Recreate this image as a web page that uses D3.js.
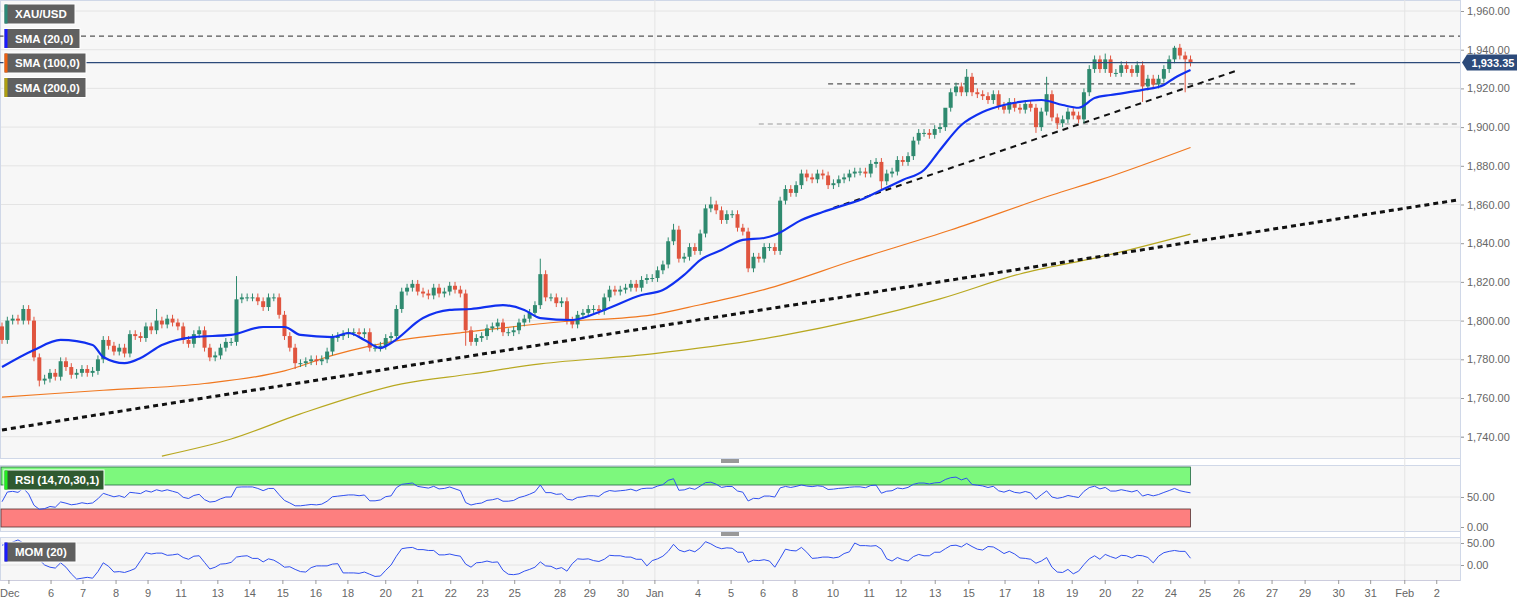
<!DOCTYPE html>
<html><head><meta charset="utf-8">
<script src="https://cdn.jsdelivr.net/npm/d3@7"></script>
<style>body{margin:0;background:#fff;}svg{display:block;font-family:"Liberation Sans",Arial,sans-serif;}</style>
</head><body><svg id="c" width="1536" height="604"></svg>
<script>
// ---- data ----
const closes = [1790,1800,1801,1800,1806,1800, 1781,1769,1770,1773,1771,1779, 1776,1772,1773,1775,1773,1774,
1780,1790,1787,1784,1786,1783, 1793,1792,1791,1797,1795,1800, 1798,1801,1799,1797,1790,1788,
1793,1795,1786,1781,1782,1786, 1789,1789,1811,1812,1812,1812, 1810,1807,1812,1812,1803,1792,
1786,1778,1778,1779,1780,1779, 1780,1784,1791,1792,1793,1794, 1794,1793,1794,1786,1786,1787,
1791,1792,1806,1815,1817,1819, 1815,1814,1813,1817,1814,1815, 1818,1816,1814,1795,1789,1791,
1792,1796,1797,1799,1794,1794, 1795,1799,1801,1804,1808,1824, 1812,1812,1809,1810,1800,1798,
1803,1804,1806,1806,1805,1812, 1816,1815,1816,1817,1819,1817, 1821,1822,1822,1826,1829,1841,
1847,1832,1833,1838,1836,1845, 1858,1860,1857,1852,1855,1855, 1848,1846,1827,1833,1832,1838,
1838,1836,1862,1868,1866,1870, 1876,1874,1873,1876,1875,1870, 1871,1873,1874,1876,1877,1877,
1876,1881,1882,1872,1876,1877, 1883,1882,1885,1893,1897,1897, 1896,1899,1900,1910,1918,1921,
1918,1926,1918,1917,1916,1914, 1917,1911,1909,1913,1910,1909, 1912,1910,1900,1908,1917,1905,
1902,1904,1908,1906,1904,1918, 1930,1935,1930,1935,1928,1928, 1932,1930,1928,1932,1921,1925,
1922,1925,1930,1935,1941,1937, 1935,1933.35];
const firstOpen = 1797;
const highOverrides = {29:1806,44:1823,101:1832,177:1902,181:1930,196:1926,220:1942,126:1850,133:1864,171:1895,205:1937,207:1938};
const lowOverrides = {7:1766,140:1825,165:1868,194:1897,214:1913,222:1918,87:1787,55:1775,198:1899};
const defaultWick = 2;
const momStart = [45,48,52,57,50,40,23,12,0,-5,-7,5,-5,-20,-32,-30,-28,-30,-15,5];
const rsiStartAvg = [0.9,0.7];

const sma20 = [[0,1776],[6,1784.8],[11,1790],[17,1787.4],[19,1781.2],[23,1778],[26,1780.7],[30,1787.4],[36,1791.5],[43,1792.6],[49,1796.7],[53,1796.7],[56,1792.6],[62,1791.5],[65,1793.6],[68,1790],[71,1785.8],[73,1788.4],[79,1801.3],[84,1805.5],[88,1806],[94,1808],[98,1805.5],[101,1801.3],[107,1800.3],[113,1805.5],[120,1813.2],[124,1815.8],[128,1823.6],[131,1831.3],[135,1836.5],[139,1841.7],[143,1842.7],[145,1844.2],[150,1852],[154,1856.1],[158,1859.7],[161,1862.3],[165,1867.5],[169,1872.7],[173,1877.8],[176,1888.2],[180,1901.1],[184,1907.8],[188,1911.4],[191,1913],[195,1914],[199,1911.4],[202,1910],[205,1915],[208,1916.6],[214,1919.2],[218,1921.8],[220,1925.4],[223,1929.5]];
const sma100 = [[0,1760.5],[19,1764],[38,1767.5],[53,1774],[62,1782],[75,1790],[86,1793.7],[105,1799.4],[122,1803],[131,1808.2],[143,1816],[160,1831.3],[178,1846.8],[197,1864.9],[206,1872.7],[223,1889.5]];
const sma200 = [[30,1730],[43,1738.8],[56,1751.8],[75,1767.3],[88,1772.4],[101,1777.6],[122,1782.8],[146,1792.1],[176,1811.2],[191,1824.1],[206,1832.9],[223,1844.7]];
const trendLong = [[0,1743.5],[273,1862.3]];
const trendShort = [[156,1858.2],[232,1929.5]];
const resistance = 1947;
const levelMid = [[155,1922.3],[254,1922.3]];
const levelLow = [[142,1901.6],[273,1901.6]];
const lastPrice = 1933.35;

const priceTicks = [1740,1760,1780,1800,1820,1840,1860,1880,1900,1920,1940,1960];
const xLabels = [["Dec",1.3],["6",9.2],["7",15.2],["8",21.4],["9",27.4],["11",33.6],["13",40.5],["14",46.5],["15",52.7],["16",58.9],["18",64.9],["20",72],["21",78],["22",84.2],["23",90.2],["25",96.2],["28",104.7],["29",110.3],["30",116.5],["Jan",122.5],["4",130.6],["5",136.8],["6",142.8],["8",148.8],["10",155.9],["11",162.7],["12",168.7],["13",175.1],["15",181.4],["17",188.2],["18",194.5],["19",200.8],["20",207],["22",213.1],["24",219.3],["25",225.7],["26",232.1],["27",238.3],["29",244.5],["30",250.8],["31",256.8],["Feb",263.2],["2",269.2]];
const vGridAt = [122.5, 263.2];
const legends = [["XAU/USD","#2a8a78"],["SMA (20,0)","#1a1aff"],["SMA (100,0)","#f06010"],["SMA (200,0)","#b0a010"]];

// ---- build ----
const svg = d3.select("#c");
const W = 1460;
const x = d3.scaleLinear().domain([0,273]).range([2,1457]);
const y = d3.scaleLinear().domain([1740,1960]).range([436.7,11]);
const yR = d3.scaleLinear().domain([0,100]).range([527,467]);
const yM = d3.scaleLinear().domain([0,50]).range([565,543]);

svg.append("rect").attr("width",1536).attr("height",604).attr("fill","#fff");
const panes=[[0,458],[465,531],[537,580]];
panes.forEach(([a,b])=>svg.append("rect").attr("x",0.5).attr("y",a+0.5).attr("width",W).attr("height",b-a).attr("fill","#f7f7f7").attr("stroke","#d0d8e8"));
[461,534].forEach(g=>{svg.append("rect").attr("x",721).attr("y",g-2).attr("width",18).attr("height",4).attr("fill","#999");});

const gMain = svg.append("g");
priceTicks.forEach(p=>gMain.append("line").attr("x1",1).attr("x2",W).attr("y1",y(p)).attr("y2",y(p)).attr("stroke","#e4e4e4"));
[yR(50),yM(0),yM(50)].forEach(v=>svg.append("line").attr("x1",1).attr("x2",W).attr("y1",v).attr("y2",v).attr("stroke","#e4e4e4"));
vGridAt.forEach(v=>svg.append("line").attr("x1",x(v)).attr("x2",x(v)).attr("y1",0).attr("y2",580).attr("stroke","#e4e4e4"));

const axisG = svg.append("g").attr("transform",`translate(${W},0)`).call(d3.axisRight(y).tickValues(priceTicks).tickSize(4).tickFormat(d3.format(",.2f")));
axisG.select(".domain").attr("stroke","#d0d8e8");
axisG.selectAll("text").attr("fill","#666").style("font-size","11px");
axisG.selectAll(".tick line").attr("stroke","#999");
[[yR,[0,50]],[yM,[0,50]]].forEach(([s,t])=>{
  const g=svg.append("g").attr("transform",`translate(${W},0)`).call(d3.axisRight(s).tickValues(t).tickSize(4).tickFormat(d3.format(".2f")));
  g.select(".domain").remove();g.selectAll("text").attr("fill","#666").style("font-size","11px");g.selectAll(".tick line").attr("stroke","#999");
});
svg.append("line").attr("x1",W+0.5).attr("x2",W+0.5).attr("y1",0).attr("y2",580).attr("stroke","#d0d8e8");

svg.append("line").attr("x1",0).attr("x2",W).attr("y1",580.5).attr("y2",580.5).attr("stroke","#ccd");
xLabels.forEach(([t,i])=>{
  svg.append("line").attr("x1",x(i)).attr("x2",x(i)).attr("y1",580).attr("y2",584).attr("stroke","#999");
  svg.append("text").attr("x",t==="Dec"?0:x(i)).attr("y",597).attr("text-anchor",t==="Dec"?"start":"middle").attr("fill","#666").style("font-size","11px").text(t);
});

const line = d3.line().x(d=>x(d[0])).y(d=>y(d[1]));
svg.append("line").attr("x1",0).attr("x2",W).attr("y1",y(resistance)).attr("y2",y(resistance)).attr("stroke","#555").attr("stroke-dasharray","5,4").attr("stroke-width",1.2);
svg.append("path").attr("d",line(levelMid)).attr("stroke","#555").attr("stroke-dasharray","5,4").attr("stroke-width",1.2).attr("fill","none");
svg.append("path").attr("d",line(levelLow)).attr("stroke","#999").attr("stroke-dasharray","5,4").attr("stroke-width",1.2).attr("fill","none");

const smooth = d3.line().curve(d3.curveMonotoneX).x(d=>x(d[0])).y(d=>y(d[1]));
svg.append("path").attr("d",smooth(sma200)).attr("stroke","#b8a820").attr("stroke-width",1.2).attr("fill","none");
svg.append("path").attr("d",smooth(sma100)).attr("stroke","#f07820").attr("stroke-width",1.2).attr("fill","none");

svg.append("path").attr("d",line(trendLong)).attr("stroke","#111").attr("stroke-width",3).attr("stroke-dasharray","5,4").attr("fill","none");
svg.append("path").attr("d",line(trendShort)).attr("stroke","#111").attr("stroke-width",2).attr("stroke-dasharray","6,5").attr("fill","none");

const cg = svg.append("g");
closes.forEach((c,i)=>{
  const o = i===0?firstOpen:closes[i-1];
  const hi = highOverrides[i] ?? Math.max(o,c)+defaultWick;
  const lo = lowOverrides[i] ?? Math.min(o,c)-defaultWick;
  const col = c>=o?"#2f8a6f":"#e0553f";
  cg.append("line").attr("x1",x(i)).attr("x2",x(i)).attr("y1",y(hi)).attr("y2",y(lo)).attr("stroke",col).attr("stroke-width",1);
  const top=y(Math.max(o,c)), bot=y(Math.min(o,c));
  cg.append("rect").attr("x",x(i)-2).attr("y",top).attr("width",4).attr("height",Math.max(1,bot-top)).attr("fill",col);
});
svg.append("path").attr("d",smooth(sma20)).attr("stroke","#1030f0").attr("stroke-width",2.2).attr("fill","none");

svg.append("line").attr("x1",0).attr("x2",W).attr("y1",y(lastPrice)).attr("y2",y(lastPrice)).attr("stroke","#2c4a7a").attr("stroke-width",1.2);
svg.append("path").attr("d",`M${W+2},${y(lastPrice)} l5,-8 h50 v16 h-50 z`).attr("fill","#2c4a7a");
svg.append("text").attr("x",W+33).attr("y",y(lastPrice)+4).attr("text-anchor","middle").attr("fill","#fff").style("font-size","11px").style("font-weight","bold").text(d3.format(",.2f")(lastPrice));

const rsi=[];let ag=rsiStartAvg[0],al=rsiStartAvg[1];
closes.forEach((c,i)=>{
  const d=c-(i===0?firstOpen:closes[i-1]),g=Math.max(d,0),l=Math.max(-d,0);
  ag=(ag*13+g)/14; al=(al*13+l)/14;
  rsi.push(al===0?100:100-100/(1+ag/al)); });
svg.append("rect").attr("x",1).attr("y",yR(100)).attr("width",x(223)-1).attr("height",yR(70)-yR(100)).attr("fill","#7df87d").attr("stroke","#264").attr("stroke-width",0.8);
svg.append("rect").attr("x",1).attr("y",yR(30)).attr("width",x(223)-1).attr("height",yR(0)-yR(30)).attr("fill","#fd7f7f").attr("stroke","#533").attr("stroke-width",0.8);
svg.append("path").attr("d",d3.line().x(d=>x(d[0])).y(d=>yR(d[1]))(rsi.map((v,i)=>[i,v]))).attr("stroke","#3050f0").attr("fill","none").attr("stroke-width",1);
const mom = closes.map((c,i)=>[i, i>=20 ? c-closes[i-20] : momStart[i]]);
svg.append("path").attr("d",d3.line().x(d=>x(d[0])).y(d=>yM(d[1]))(mom)).attr("stroke","#3050f0").attr("fill","none").attr("stroke-width",1);

function legend(t,col,yy,w,bg){
  svg.append("rect").attr("x",4).attr("y",yy).attr("width",w).attr("height",20).attr("fill",bg).attr("stroke","#fff");
  svg.append("rect").attr("x",4.5).attr("y",yy+0.5).attr("width",3).attr("height",19).attr("fill",col);
  svg.append("text").attr("x",15).attr("y",yy+14).attr("fill","#fff").style("font-size","11.5px").style("font-weight","bold").text(t);
}
legends.forEach(([t,c],k)=>legend(t,c,4+k*24.5,[71,76,82,82][k],"#606060"));
legend("RSI (14,70,30,1)","#22ee22",470,100,"#2f5a30");
legend("MOM (20)","#1a1aff",542,72,"#606060");
</script></body></html>
